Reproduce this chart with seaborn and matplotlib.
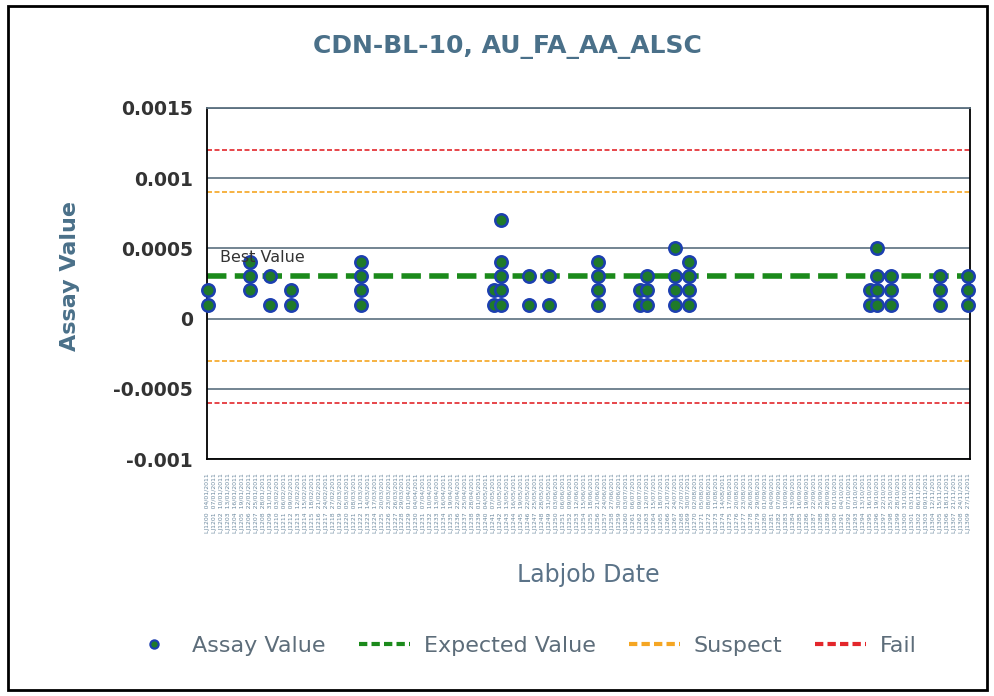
import matplotlib
matplotlib.use("Agg")
import matplotlib.pyplot as plt
import matplotlib.patches as mpatches
from matplotlib.lines import Line2D
import numpy as np
import pandas as pd
import seaborn as sns

sns.set_style("white")
plt.rcParams['font.family'] = ['DejaVu Sans']

# labjob positions (index along the date axis) and assay values
labjob_idx = [0, 0,
              6, 6, 6,
              9, 9,
              12, 12,
              22, 22, 22, 22,
              41, 41,
              42, 42, 42, 42, 42,
              46, 46,
              49, 49,
              56, 56, 56, 56,
              62, 62,
              63, 63, 63,
              67, 67, 67, 67,
              69, 69, 69, 69,
              95, 95,
              96, 96, 96, 96,
              98, 98, 98,
              105, 105, 105,
              109, 109, 109]
assay = [0.0001, 0.0002,
         0.0002, 0.0003, 0.0004,
         0.0001, 0.0003,
         0.0001, 0.0002,
         0.0001, 0.0002, 0.0003, 0.0004,
         0.0001, 0.0002,
         0.0001, 0.0002, 0.0003, 0.0004, 0.0007,
         0.0001, 0.0003,
         0.0001, 0.0003,
         0.0001, 0.0002, 0.0003, 0.0004,
         0.0001, 0.0002,
         0.0001, 0.0002, 0.0003,
         0.0001, 0.0002, 0.0003, 0.0005,
         0.0001, 0.0002, 0.0003, 0.0004,
         0.0001, 0.0002,
         0.0001, 0.0002, 0.0003, 0.0005,
         0.0001, 0.0002, 0.0003,
         0.0001, 0.0002, 0.0003,
         0.0001, 0.0002, 0.0003]

expected = 0.0003
suspect = [0.0009, -0.0003]
fail = [0.0012, -0.0006]

n_jobs = 110
labjob_dates = pd.date_range("2011-01-04", periods=n_jobs, freq="3D")
tick_labels = ["LJ%04d  %s" % (1200 + i, d.strftime("%d/%m/%Y")) for i, d in enumerate(labjob_dates)]

df = pd.DataFrame({"job": labjob_idx, "value": assay})

fig = plt.figure(figsize=(9.95, 6.96), dpi=100)
ax = fig.add_axes([0.208, 0.3405, 0.767, 0.5045])

grid_c = '#5b6f7f'
for v in [0.0015, 0.001, 0.0005, 0, -0.0005, -0.001]:
    ax.axhline(v, color=grid_c, lw=1.2, zorder=0)

red = '#e3262b'
orange = '#f5a623'
green = '#1b8a1b'
for v in fail:
    ax.axhline(v, color=red, lw=1.2, ls=(0, (3, 1.5)), zorder=1)
for v in suspect:
    ax.axhline(v, color=orange, lw=1.2, ls=(0, (3, 1.5)), zorder=1)
ax.axhline(expected, color=green, lw=4, ls=(0, (3.5, 1.5)), zorder=2)

sns.scatterplot(data=df, x="job", y="value", ax=ax, s=80, color='#1f7a2a',
                edgecolor='#1c3fb0', linewidth=1.8, zorder=3, clip_on=False, legend=False)

ax.text(1.8, 0.000435, "Best Value", fontsize=11.5, color='#333333', va='center', zorder=4)

ax.set_xlim(-0.1, n_jobs - 0.7)
ax.set_ylim(-0.001, 0.0015)
ax.set_yticks([-0.001, -0.0005, 0, 0.0005, 0.001, 0.0015])
ax.set_yticklabels(["-0.001", "-0.0005", "0", "0.0005", "0.001", "0.0015"],
                   fontsize=13.5, fontweight='bold', color='#333333')
ax.set_xticks(range(n_jobs))
ax.set_xticklabels(tick_labels, rotation=90, fontsize=4.4, color='#6d8aa0')
ax.tick_params(axis='x', direction='out', length=6, width=1.2, color='black', pad=4)
ax.tick_params(axis='y', direction='out', length=8, width=1.2, color='black', pad=2)

for sp in ax.spines.values():
    sp.set_visible(True)
    sp.set_color('black')
    sp.set_linewidth(1.3)
ax.spines['top'].set_color(grid_c)

ax.set_xlabel("Labjob Date", fontsize=17, color='#5b7388')
ax.xaxis.set_label_coords(0.5, -0.295)
ax.set_ylabel("Assay Value", fontsize=16, fontweight='bold', color='#4a7089')
ax.yaxis.set_label_coords(-0.166, 0.52)

fig.suptitle("CDN-BL-10, AU_FA_AA_ALSC", x=0.51, y=0.932, va='center',
             fontsize=18, fontweight='bold', color='#4a7089')

handles = [Line2D([], [], ls='none', marker='o', markersize=6, markerfacecolor='#1f7a2a',
                  markeredgecolor='#1c3fb0', markeredgewidth=1.5),
           Line2D([], [], color=green, lw=3, ls=(0, (2, 1))),
           Line2D([], [], color=orange, lw=3, ls=(0, (2, 1))),
           Line2D([], [], color=red, lw=3, ls=(0, (2, 1)))]
fig.legend(handles, ["Assay Value", "Expected Value", "Suspect", "Fail"],
           loc='center', bbox_to_anchor=(0.525, 0.072), ncol=4, frameon=False,
           fontsize=16, handlelength=2.3, handletextpad=0.6, columnspacing=1.5,
           labelcolor='#5d6d7a')

fig.add_artist(mpatches.Rectangle((0.008, 0.008), 0.984, 0.984, transform=fig.transFigure,
                                  fill=False, lw=2, ec='black'))

fig.savefig("out.png", dpi=100)
